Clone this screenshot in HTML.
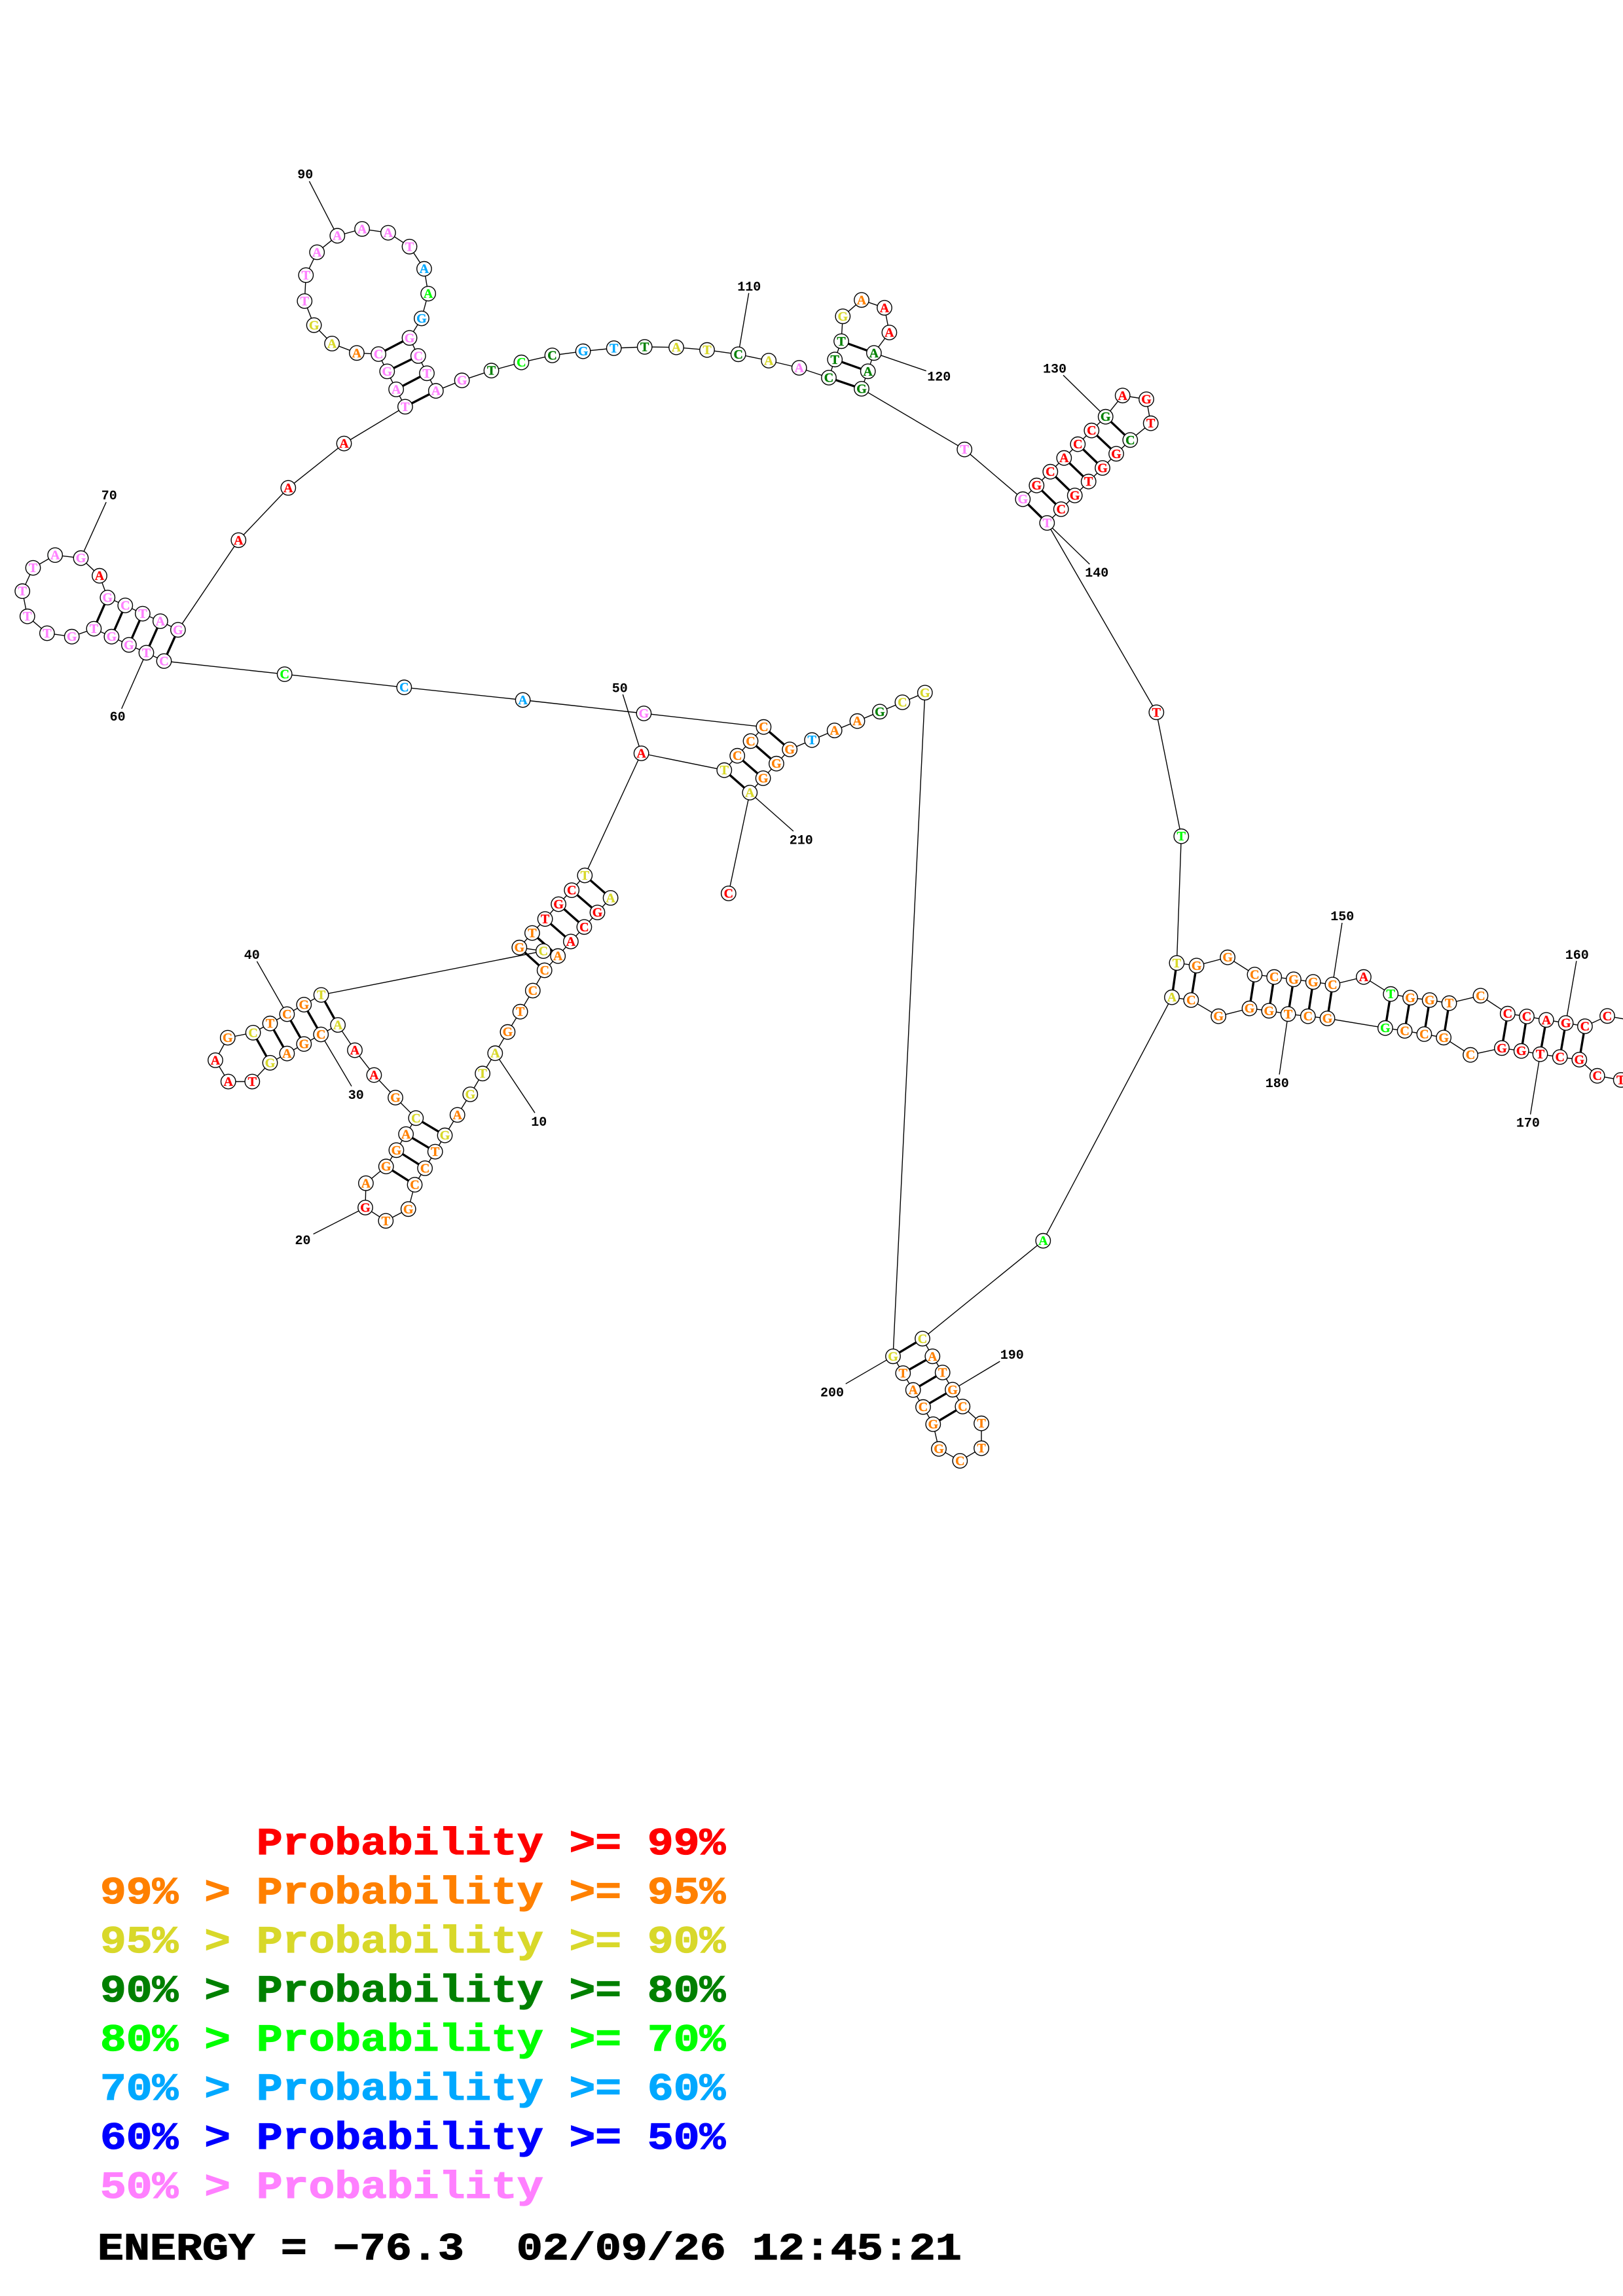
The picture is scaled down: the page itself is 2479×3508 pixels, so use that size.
<!DOCTYPE html>
<html><head><meta charset="utf-8"><style>
html,body{margin:0;padding:0;background:#fff}
svg{display:block}
.n circle{fill:#fff;stroke:#000;stroke-width:1.4;r:11.2px}
.n text{font:bold 20px "Liberation Serif",serif;text-anchor:middle;transform:translateY(6.5px);stroke:currentColor;stroke-width:.35}
.lb{font:bold 20px "Liberation Mono",monospace;text-anchor:middle;fill:#000}
.lg text{font:bold 58px "Liberation Mono",monospace;white-space:pre;stroke-width:1.2}
.r{fill:#f00;color:#f00;stroke:#f00}.o{fill:#ff8000;color:#ff8000;stroke:#ff8000}.y{fill:#d8d82a;color:#d8d82a;stroke:#d8d82a}.d{fill:#008000;color:#008000;stroke:#008000}.l{fill:#0f0;color:#0f0;stroke:#0f0}.b{fill:#00a8ff;color:#00a8ff;stroke:#00a8ff}.u{fill:#00f;color:#00f;stroke:#00f}.p{fill:#ff80ff;color:#ff80ff;stroke:#ff80ff}
</style></head><body>
<svg xmlns="http://www.w3.org/2000/svg" width="2479" height="3508" viewBox="0 0 2479 3508">
<rect width="2479" height="3508" fill="#fff"/>
<path fill="none" stroke="#000" stroke-width="1.4" d="M932.6 1371.9L912.5 1394.1L892.4 1416.3L871.9 1438.5L852.2 1460.7L831.7 1482.5L813.8 1513.5L794.6 1545.7L775.4 1576.7L756.3 1609.2L737.1 1640.2L718.3 1672L698.7 1703.4L679.5 1734.7L664.7 1759.6L649.1 1784.9L633.5 1810.1L623.7 1847.3L589.3 1865.3L558 1845L558.9 1807.8L589.7 1782.2L605.4 1757.3L620.1 1732.8L635.3 1708.3L604 1677L571.4 1642.5L542 1604.6L516.1 1566L490.2 1580.5L464.3 1595.1L438.4 1609.6L412.5 1623.8L385.3 1652.5L348.7 1652.5L329 1619.9L347.8 1585.5L386.6 1577.8L412.5 1563.7L438.4 1549.5L464.3 1535L490.6 1520.1L829.9 1453.1L793.3 1447.7L812.9 1425.5L832.6 1404.1L853.1 1381.5L873.2 1360.1L893.3 1337.5L979.6 1151L1106.3 1176.7L1126.2 1154.7L1146.5 1132.3L1166.4 1110.7L983.4 1090L798.6 1069.5L617.3 1050.2L434.7 1030.1L250.5 1010L223.5 997.3L196.9 985.3L170.4 972.7L143.4 960.6L109.7 972.7L71.9 967.5L41.8 941.7L34.2 903.2L50.5 867.6L84.2 848.1L123.5 852.7L152 879.7L164.3 913L191.3 925L217.9 937.6L244.9 949.1L271.9 962.3L364.3 825.3L440.3 745.4L525.5 677.6L618.9 621.4L605.1 594.9L591.3 567.4L578.1 541L544.9 539.3L507.1 524.9L479.6 496.8L465.3 460L467.3 420.4L484.2 385.4L515.3 360.2L553.1 349.8L592.9 355.6L625.5 376.8L647.9 410.7L654.1 448.6L643.9 486.5L625.5 516.3L638.8 543.9L652 570.3L665.8 597.2L705.6 581.2L750.5 566.2L796.4 553.7L843.5 543L890.6 536.7L937.7 532L984.7 530L1033 530.7L1080 534.7L1127.7 541.3L1174.2 551L1220.7 562L1266 577L1275.2 549.3L1285 521.3L1287.3 483.3L1316 458.3L1351 470.3L1358.4 508L1334.9 539.3L1325.7 567.3L1316 594L1473.2 686.7L1562.3 762.7L1583.3 741.7L1604.3 720.7L1625.3 699.7L1646.3 678.7L1667.3 657.7L1688.7 636.7L1714.7 604.3L1751 610L1757.7 646.7L1726.3 672.3L1705 693.3L1684 715L1662.7 735.7L1641.7 757L1620.7 778L1599.3 799L1766.3 1088.3L1804.3 1277.7L1797.4 1471.3L1827.6 1475.3L1875.1 1462.7L1916.4 1489L1946.2 1492.7L1975.9 1496.3L2005.7 1500.3L2035.4 1504.3L2082.9 1492.7L2124.2 1518.7L2154 1524.3L2183.7 1528L2213.5 1532.7L2261.4 1521.3L2302.8 1548.7L2332 1553L2361.8 1558.3L2391.6 1563L2420.9 1568L2455 1552.3L2492 1559M2510 1655L2475.7 1650L2439.7 1643.7L2412.3 1619L2382.7 1615L2352.5 1610.7L2323.7 1605.7L2293.9 1601.3L2246 1611.7L2205.1 1585.3L2175.4 1580L2145.6 1575L2115.9 1570.7L2027.5 1556L1997.8 1552.7L1967.6 1549.3L1938.3 1544.3L1908.5 1540.7L1861.1 1552.7L1819.3 1528L1790 1523.7L1593.3 1895.7L1409 2045.3L1424.3 2072.3L1439.7 2097L1455 2123.3L1470.3 2149L1499 2174.7L1499 2212.7L1466.3 2232L1434 2213.7L1425.3 2176L1410 2149.7L1394.7 2123.7L1379.3 2098L1364 2072.3L1412.8 1058.3L1378.4 1073L1343.9 1087.3L1309.5 1101.7L1274.7 1116L1240.2 1130.7L1206.2 1145L1185.9 1166.7L1165.6 1189L1145.3 1211L1112.8 1365"/>
<path fill="none" stroke="#000" stroke-width="1.4" d="M756.3 1609.2L817 1700.3M490.2 1580.5L537 1659.7M438.4 1549.5L392.4 1468.8M558 1845L478.6 1885.5M979.6 1151L951.3 1061M1145.3 1211L1211.9 1270M515.3 360.2L472.4 276.9M123.5 852.7L162.2 767.2M223.5 997.3L185.7 1082.9M1127.7 541.3L1143.7 447.7M1334.9 539.3L1414.7 566.7M1688.7 636.7L1624 573.3M1599.3 799L1664.3 862M2035.4 1504.3L2049.9 1410M2391.6 1563L2407.9 1468.3M1967.6 1549.3L1954.1 1641.7M2352.5 1610.7L2337.6 1702.7M1455 2123.3L1527.3 2080M1364 2072.3L1291.7 2114.3"/>
<path fill="none" stroke="#000" stroke-width="3.4" d="M893.3 1337.5L932.6 1371.9M873.2 1360.1L912.5 1394.1M853.1 1381.5L892.4 1416.3M832.6 1404.1L871.9 1438.5M812.9 1425.5L852.2 1460.7M793.3 1447.7L831.7 1482.5M679.5 1734.7L635.3 1708.3M664.7 1759.6L620.1 1732.8M649.1 1784.9L605.4 1757.3M633.5 1810.1L589.7 1782.2M516.1 1566L490.6 1520.1M490.2 1580.5L464.3 1535M464.3 1595.1L438.4 1549.5M438.4 1609.6L412.5 1563.7M412.5 1623.8L386.6 1577.8M1106.3 1176.7L1145.3 1211M1126.2 1154.7L1165.6 1189M1146.5 1132.3L1185.9 1166.7M1166.4 1110.7L1206.2 1145M250.5 1010L271.9 962.3M223.5 997.3L244.9 949.1M196.9 985.3L217.9 937.6M170.4 972.7L191.3 925M143.4 960.6L164.3 913M618.9 621.4L665.8 597.2M605.1 594.9L652 570.3M591.3 567.4L638.8 543.9M578.1 541L625.5 516.3M1266 577L1316 594M1275.2 549.3L1325.7 567.3M1285 521.3L1334.9 539.3M1562.3 762.7L1599.3 799M1583.3 741.7L1620.7 778M1604.3 720.7L1641.7 757M1625.3 699.7L1662.7 735.7M1646.3 678.7L1684 715M1667.3 657.7L1705 693.3M1688.7 636.7L1726.3 672.3M1797.4 1471.3L1790 1523.7M1827.6 1475.3L1819.3 1528M1916.4 1489L1908.5 1540.7M1946.2 1492.7L1938.3 1544.3M1975.9 1496.3L1967.6 1549.3M2005.7 1500.3L1997.8 1552.7M2035.4 1504.3L2027.5 1556M2124.2 1518.7L2115.9 1570.7M2154 1524.3L2145.6 1575M2183.7 1528L2175.4 1580M2213.5 1532.7L2205.1 1585.3M2302.8 1548.7L2293.9 1601.3M2332 1553L2323.7 1605.7M2361.8 1558.3L2352.5 1610.7M2391.6 1563L2382.7 1615M2420.9 1568L2412.3 1619M1409 2045.3L1364 2072.3M1424.3 2072.3L1379.3 2098M1439.7 2097L1394.7 2123.7M1455 2123.3L1410 2149.7M1470.3 2149L1425.3 2176"/>
<g class="n">
<g class="y" transform="translate(932.6 1371.9)"><circle/><text>A</text></g>
<g class="r" transform="translate(912.5 1394.1)"><circle/><text>G</text></g>
<g class="r" transform="translate(892.4 1416.3)"><circle/><text>C</text></g>
<g class="r" transform="translate(871.9 1438.5)"><circle/><text>A</text></g>
<g class="o" transform="translate(852.2 1460.7)"><circle/><text>A</text></g>
<g class="o" transform="translate(831.7 1482.5)"><circle/><text>C</text></g>
<g class="o" transform="translate(813.8 1513.5)"><circle/><text>C</text></g>
<g class="o" transform="translate(794.6 1545.7)"><circle/><text>T</text></g>
<g class="o" transform="translate(775.4 1576.7)"><circle/><text>G</text></g>
<g class="y" transform="translate(756.3 1609.2)"><circle/><text>A</text></g>
<g class="y" transform="translate(737.1 1640.2)"><circle/><text>T</text></g>
<g class="y" transform="translate(718.3 1672)"><circle/><text>G</text></g>
<g class="o" transform="translate(698.7 1703.4)"><circle/><text>A</text></g>
<g class="y" transform="translate(679.5 1734.7)"><circle/><text>G</text></g>
<g class="o" transform="translate(664.7 1759.6)"><circle/><text>T</text></g>
<g class="o" transform="translate(649.1 1784.9)"><circle/><text>C</text></g>
<g class="o" transform="translate(633.5 1810.1)"><circle/><text>C</text></g>
<g class="o" transform="translate(623.7 1847.3)"><circle/><text>G</text></g>
<g class="o" transform="translate(589.3 1865.3)"><circle/><text>T</text></g>
<g class="r" transform="translate(558 1845)"><circle/><text>G</text></g>
<g class="o" transform="translate(558.9 1807.8)"><circle/><text>A</text></g>
<g class="o" transform="translate(589.7 1782.2)"><circle/><text>G</text></g>
<g class="o" transform="translate(605.4 1757.3)"><circle/><text>G</text></g>
<g class="o" transform="translate(620.1 1732.8)"><circle/><text>A</text></g>
<g class="y" transform="translate(635.3 1708.3)"><circle/><text>C</text></g>
<g class="o" transform="translate(604 1677)"><circle/><text>G</text></g>
<g class="r" transform="translate(571.4 1642.5)"><circle/><text>A</text></g>
<g class="r" transform="translate(542 1604.6)"><circle/><text>A</text></g>
<g class="y" transform="translate(516.1 1566)"><circle/><text>A</text></g>
<g class="o" transform="translate(490.2 1580.5)"><circle/><text>C</text></g>
<g class="o" transform="translate(464.3 1595.1)"><circle/><text>G</text></g>
<g class="o" transform="translate(438.4 1609.6)"><circle/><text>A</text></g>
<g class="y" transform="translate(412.5 1623.8)"><circle/><text>G</text></g>
<g class="r" transform="translate(385.3 1652.5)"><circle/><text>T</text></g>
<g class="r" transform="translate(348.7 1652.5)"><circle/><text>A</text></g>
<g class="r" transform="translate(329 1619.9)"><circle/><text>A</text></g>
<g class="o" transform="translate(347.8 1585.5)"><circle/><text>G</text></g>
<g class="y" transform="translate(386.6 1577.8)"><circle/><text>C</text></g>
<g class="o" transform="translate(412.5 1563.7)"><circle/><text>T</text></g>
<g class="o" transform="translate(438.4 1549.5)"><circle/><text>C</text></g>
<g class="o" transform="translate(464.3 1535)"><circle/><text>G</text></g>
<g class="y" transform="translate(490.6 1520.1)"><circle/><text>T</text></g>
<g class="y" transform="translate(829.9 1453.1)"><circle/><text>C</text></g>
<g class="o" transform="translate(793.3 1447.7)"><circle/><text>G</text></g>
<g class="o" transform="translate(812.9 1425.5)"><circle/><text>T</text></g>
<g class="r" transform="translate(832.6 1404.1)"><circle/><text>T</text></g>
<g class="r" transform="translate(853.1 1381.5)"><circle/><text>G</text></g>
<g class="r" transform="translate(873.2 1360.1)"><circle/><text>C</text></g>
<g class="y" transform="translate(893.3 1337.5)"><circle/><text>T</text></g>
<g class="r" transform="translate(979.6 1151)"><circle/><text>A</text></g>
<g class="y" transform="translate(1106.3 1176.7)"><circle/><text>T</text></g>
<g class="o" transform="translate(1126.2 1154.7)"><circle/><text>C</text></g>
<g class="o" transform="translate(1146.5 1132.3)"><circle/><text>C</text></g>
<g class="o" transform="translate(1166.4 1110.7)"><circle/><text>C</text></g>
<g class="p" transform="translate(983.4 1090)"><circle/><text>G</text></g>
<g class="b" transform="translate(798.6 1069.5)"><circle/><text>A</text></g>
<g class="b" transform="translate(617.3 1050.2)"><circle/><text>C</text></g>
<g class="l" transform="translate(434.7 1030.1)"><circle/><text>C</text></g>
<g class="p" transform="translate(250.5 1010)"><circle/><text>C</text></g>
<g class="p" transform="translate(223.5 997.3)"><circle/><text>T</text></g>
<g class="p" transform="translate(196.9 985.3)"><circle/><text>G</text></g>
<g class="p" transform="translate(170.4 972.7)"><circle/><text>G</text></g>
<g class="p" transform="translate(143.4 960.6)"><circle/><text>T</text></g>
<g class="p" transform="translate(109.7 972.7)"><circle/><text>G</text></g>
<g class="p" transform="translate(71.9 967.5)"><circle/><text>T</text></g>
<g class="p" transform="translate(41.8 941.7)"><circle/><text>T</text></g>
<g class="p" transform="translate(34.2 903.2)"><circle/><text>T</text></g>
<g class="p" transform="translate(50.5 867.6)"><circle/><text>T</text></g>
<g class="p" transform="translate(84.2 848.1)"><circle/><text>A</text></g>
<g class="p" transform="translate(123.5 852.7)"><circle/><text>G</text></g>
<g class="r" transform="translate(152 879.7)"><circle/><text>A</text></g>
<g class="p" transform="translate(164.3 913)"><circle/><text>G</text></g>
<g class="p" transform="translate(191.3 925)"><circle/><text>C</text></g>
<g class="p" transform="translate(217.9 937.6)"><circle/><text>T</text></g>
<g class="p" transform="translate(244.9 949.1)"><circle/><text>A</text></g>
<g class="p" transform="translate(271.9 962.3)"><circle/><text>G</text></g>
<g class="r" transform="translate(364.3 825.3)"><circle/><text>A</text></g>
<g class="r" transform="translate(440.3 745.4)"><circle/><text>A</text></g>
<g class="r" transform="translate(525.5 677.6)"><circle/><text>A</text></g>
<g class="p" transform="translate(618.9 621.4)"><circle/><text>T</text></g>
<g class="p" transform="translate(605.1 594.9)"><circle/><text>A</text></g>
<g class="p" transform="translate(591.3 567.4)"><circle/><text>G</text></g>
<g class="p" transform="translate(578.1 541)"><circle/><text>C</text></g>
<g class="o" transform="translate(544.9 539.3)"><circle/><text>A</text></g>
<g class="y" transform="translate(507.1 524.9)"><circle/><text>A</text></g>
<g class="y" transform="translate(479.6 496.8)"><circle/><text>G</text></g>
<g class="p" transform="translate(465.3 460)"><circle/><text>T</text></g>
<g class="p" transform="translate(467.3 420.4)"><circle/><text>T</text></g>
<g class="p" transform="translate(484.2 385.4)"><circle/><text>A</text></g>
<g class="p" transform="translate(515.3 360.2)"><circle/><text>A</text></g>
<g class="p" transform="translate(553.1 349.8)"><circle/><text>A</text></g>
<g class="p" transform="translate(592.9 355.6)"><circle/><text>A</text></g>
<g class="p" transform="translate(625.5 376.8)"><circle/><text>T</text></g>
<g class="b" transform="translate(647.9 410.7)"><circle/><text>A</text></g>
<g class="l" transform="translate(654.1 448.6)"><circle/><text>A</text></g>
<g class="b" transform="translate(643.9 486.5)"><circle/><text>G</text></g>
<g class="p" transform="translate(625.5 516.3)"><circle/><text>G</text></g>
<g class="p" transform="translate(638.8 543.9)"><circle/><text>C</text></g>
<g class="p" transform="translate(652 570.3)"><circle/><text>T</text></g>
<g class="p" transform="translate(665.8 597.2)"><circle/><text>A</text></g>
<g class="p" transform="translate(705.6 581.2)"><circle/><text>G</text></g>
<g class="d" transform="translate(750.5 566.2)"><circle/><text>T</text></g>
<g class="l" transform="translate(796.4 553.7)"><circle/><text>C</text></g>
<g class="d" transform="translate(843.5 543)"><circle/><text>C</text></g>
<g class="b" transform="translate(890.6 536.7)"><circle/><text>G</text></g>
<g class="b" transform="translate(937.7 532)"><circle/><text>T</text></g>
<g class="d" transform="translate(984.7 530)"><circle/><text>T</text></g>
<g class="y" transform="translate(1033 530.7)"><circle/><text>A</text></g>
<g class="y" transform="translate(1080 534.7)"><circle/><text>T</text></g>
<g class="d" transform="translate(1127.7 541.3)"><circle/><text>C</text></g>
<g class="y" transform="translate(1174.2 551)"><circle/><text>A</text></g>
<g class="p" transform="translate(1220.7 562)"><circle/><text>A</text></g>
<g class="d" transform="translate(1266 577)"><circle/><text>C</text></g>
<g class="d" transform="translate(1275.2 549.3)"><circle/><text>T</text></g>
<g class="d" transform="translate(1285 521.3)"><circle/><text>T</text></g>
<g class="y" transform="translate(1287.3 483.3)"><circle/><text>G</text></g>
<g class="o" transform="translate(1316 458.3)"><circle/><text>A</text></g>
<g class="r" transform="translate(1351 470.3)"><circle/><text>A</text></g>
<g class="r" transform="translate(1358.4 508)"><circle/><text>A</text></g>
<g class="d" transform="translate(1334.9 539.3)"><circle/><text>A</text></g>
<g class="d" transform="translate(1325.7 567.3)"><circle/><text>A</text></g>
<g class="d" transform="translate(1316 594)"><circle/><text>G</text></g>
<g class="p" transform="translate(1473.2 686.7)"><circle/><text>T</text></g>
<g class="p" transform="translate(1562.3 762.7)"><circle/><text>G</text></g>
<g class="r" transform="translate(1583.3 741.7)"><circle/><text>G</text></g>
<g class="r" transform="translate(1604.3 720.7)"><circle/><text>C</text></g>
<g class="r" transform="translate(1625.3 699.7)"><circle/><text>A</text></g>
<g class="r" transform="translate(1646.3 678.7)"><circle/><text>C</text></g>
<g class="r" transform="translate(1667.3 657.7)"><circle/><text>C</text></g>
<g class="d" transform="translate(1688.7 636.7)"><circle/><text>G</text></g>
<g class="r" transform="translate(1714.7 604.3)"><circle/><text>A</text></g>
<g class="r" transform="translate(1751 610)"><circle/><text>G</text></g>
<g class="r" transform="translate(1757.7 646.7)"><circle/><text>T</text></g>
<g class="d" transform="translate(1726.3 672.3)"><circle/><text>C</text></g>
<g class="r" transform="translate(1705 693.3)"><circle/><text>G</text></g>
<g class="r" transform="translate(1684 715)"><circle/><text>G</text></g>
<g class="r" transform="translate(1662.7 735.7)"><circle/><text>T</text></g>
<g class="r" transform="translate(1641.7 757)"><circle/><text>G</text></g>
<g class="r" transform="translate(1620.7 778)"><circle/><text>C</text></g>
<g class="p" transform="translate(1599.3 799)"><circle/><text>T</text></g>
<g class="r" transform="translate(1766.3 1088.3)"><circle/><text>T</text></g>
<g class="l" transform="translate(1804.3 1277.7)"><circle/><text>T</text></g>
<g class="y" transform="translate(1797.4 1471.3)"><circle/><text>T</text></g>
<g class="o" transform="translate(1827.6 1475.3)"><circle/><text>G</text></g>
<g class="o" transform="translate(1875.1 1462.7)"><circle/><text>G</text></g>
<g class="o" transform="translate(1916.4 1489)"><circle/><text>C</text></g>
<g class="o" transform="translate(1946.2 1492.7)"><circle/><text>C</text></g>
<g class="o" transform="translate(1975.9 1496.3)"><circle/><text>G</text></g>
<g class="o" transform="translate(2005.7 1500.3)"><circle/><text>G</text></g>
<g class="o" transform="translate(2035.4 1504.3)"><circle/><text>C</text></g>
<g class="r" transform="translate(2082.9 1492.7)"><circle/><text>A</text></g>
<g class="l" transform="translate(2124.2 1518.7)"><circle/><text>T</text></g>
<g class="o" transform="translate(2154 1524.3)"><circle/><text>G</text></g>
<g class="o" transform="translate(2183.7 1528)"><circle/><text>G</text></g>
<g class="o" transform="translate(2213.5 1532.7)"><circle/><text>T</text></g>
<g class="o" transform="translate(2261.4 1521.3)"><circle/><text>C</text></g>
<g class="r" transform="translate(2302.8 1548.7)"><circle/><text>C</text></g>
<g class="r" transform="translate(2332 1553)"><circle/><text>C</text></g>
<g class="r" transform="translate(2361.8 1558.3)"><circle/><text>A</text></g>
<g class="r" transform="translate(2391.6 1563)"><circle/><text>G</text></g>
<g class="r" transform="translate(2420.9 1568)"><circle/><text>C</text></g>
<g class="r" transform="translate(2455 1552.3)"><circle/><text>C</text></g>
<g class="r" transform="translate(2475.7 1650)"><circle/><text>T</text></g>
<g class="r" transform="translate(2439.7 1643.7)"><circle/><text>C</text></g>
<g class="r" transform="translate(2412.3 1619)"><circle/><text>G</text></g>
<g class="r" transform="translate(2382.7 1615)"><circle/><text>C</text></g>
<g class="r" transform="translate(2352.5 1610.7)"><circle/><text>T</text></g>
<g class="r" transform="translate(2323.7 1605.7)"><circle/><text>G</text></g>
<g class="r" transform="translate(2293.9 1601.3)"><circle/><text>G</text></g>
<g class="o" transform="translate(2246 1611.7)"><circle/><text>C</text></g>
<g class="o" transform="translate(2205.1 1585.3)"><circle/><text>G</text></g>
<g class="o" transform="translate(2175.4 1580)"><circle/><text>C</text></g>
<g class="o" transform="translate(2145.6 1575)"><circle/><text>C</text></g>
<g class="l" transform="translate(2115.9 1570.7)"><circle/><text>G</text></g>
<g class="o" transform="translate(2027.5 1556)"><circle/><text>G</text></g>
<g class="o" transform="translate(1997.8 1552.7)"><circle/><text>C</text></g>
<g class="o" transform="translate(1967.6 1549.3)"><circle/><text>T</text></g>
<g class="o" transform="translate(1938.3 1544.3)"><circle/><text>G</text></g>
<g class="o" transform="translate(1908.5 1540.7)"><circle/><text>G</text></g>
<g class="o" transform="translate(1861.1 1552.7)"><circle/><text>G</text></g>
<g class="o" transform="translate(1819.3 1528)"><circle/><text>C</text></g>
<g class="y" transform="translate(1790 1523.7)"><circle/><text>A</text></g>
<g class="l" transform="translate(1593.3 1895.7)"><circle/><text>A</text></g>
<g class="y" transform="translate(1409 2045.3)"><circle/><text>C</text></g>
<g class="o" transform="translate(1424.3 2072.3)"><circle/><text>A</text></g>
<g class="o" transform="translate(1439.7 2097)"><circle/><text>T</text></g>
<g class="o" transform="translate(1455 2123.3)"><circle/><text>G</text></g>
<g class="o" transform="translate(1470.3 2149)"><circle/><text>C</text></g>
<g class="o" transform="translate(1499 2174.7)"><circle/><text>T</text></g>
<g class="o" transform="translate(1499 2212.7)"><circle/><text>T</text></g>
<g class="o" transform="translate(1466.3 2232)"><circle/><text>C</text></g>
<g class="o" transform="translate(1434 2213.7)"><circle/><text>G</text></g>
<g class="o" transform="translate(1425.3 2176)"><circle/><text>G</text></g>
<g class="o" transform="translate(1410 2149.7)"><circle/><text>C</text></g>
<g class="o" transform="translate(1394.7 2123.7)"><circle/><text>A</text></g>
<g class="o" transform="translate(1379.3 2098)"><circle/><text>T</text></g>
<g class="y" transform="translate(1364 2072.3)"><circle/><text>G</text></g>
<g class="y" transform="translate(1412.8 1058.3)"><circle/><text>G</text></g>
<g class="y" transform="translate(1378.4 1073)"><circle/><text>C</text></g>
<g class="d" transform="translate(1343.9 1087.3)"><circle/><text>G</text></g>
<g class="o" transform="translate(1309.5 1101.7)"><circle/><text>A</text></g>
<g class="o" transform="translate(1274.7 1116)"><circle/><text>A</text></g>
<g class="b" transform="translate(1240.2 1130.7)"><circle/><text>T</text></g>
<g class="o" transform="translate(1206.2 1145)"><circle/><text>G</text></g>
<g class="o" transform="translate(1185.9 1166.7)"><circle/><text>G</text></g>
<g class="o" transform="translate(1165.6 1189)"><circle/><text>G</text></g>
<g class="y" transform="translate(1145.3 1211)"><circle/><text>A</text></g>
<g class="r" transform="translate(1112.8 1365)"><circle/><text>C</text></g>
</g>
<g class="lb">
<text class="lb" x="823.2" y="1720">10</text>
<text class="lb" x="462.5" y="1901">20</text>
<text class="lb" x="543.8" y="1679">30</text>
<text class="lb" x="384.8" y="1465">40</text>
<text class="lb" x="946.7" y="1057.5">50</text>
<text class="lb" x="179.6" y="1101">60</text>
<text class="lb" x="166.8" y="763">70</text>
<text class="lb" x="466.3" y="272.5">90</text>
<text class="lb" x="1144.3" y="444">110</text>
<text class="lb" x="1434.2" y="581.5">120</text>
<text class="lb" x="1611" y="569.5">130</text>
<text class="lb" x="1675.3" y="881">140</text>
<text class="lb" x="2050.3" y="1406">150</text>
<text class="lb" x="2408.8" y="1465">160</text>
<text class="lb" x="2333.9" y="1721.5">170</text>
<text class="lb" x="1950.8" y="1661">180</text>
<text class="lb" x="1545.7" y="2076">190</text>
<text class="lb" x="1271" y="2133.5">200</text>
<text class="lb" x="1223.8" y="1289.5">210</text>
</g>
<g class="lg">
<text class="r" transform="translate(153 2833) scale(1.144 1)" xml:space="preserve">      Probability &gt;= 99%</text>
<text class="o" transform="translate(153 2908) scale(1.144 1)" xml:space="preserve">99% &gt; Probability &gt;= 95%</text>
<text class="y" transform="translate(153 2983) scale(1.144 1)" xml:space="preserve">95% &gt; Probability &gt;= 90%</text>
<text class="d" transform="translate(153 3058) scale(1.144 1)" xml:space="preserve">90% &gt; Probability &gt;= 80%</text>
<text class="l" transform="translate(153 3133) scale(1.144 1)" xml:space="preserve">80% &gt; Probability &gt;= 70%</text>
<text class="b" transform="translate(153 3208) scale(1.144 1)" xml:space="preserve">70% &gt; Probability &gt;= 60%</text>
<text class="u" transform="translate(153 3283) scale(1.144 1)" xml:space="preserve">60% &gt; Probability &gt;= 50%</text>
<text class="p" transform="translate(153 3358) scale(1.144 1)" xml:space="preserve">50% &gt; Probability</text>
<text fill="#000" stroke="#000" transform="translate(149 3452) scale(1.149 1)" xml:space="preserve">ENERGY = −76.3  02/09/26 12:45:21</text>
</g>
</svg>
</body></html>
